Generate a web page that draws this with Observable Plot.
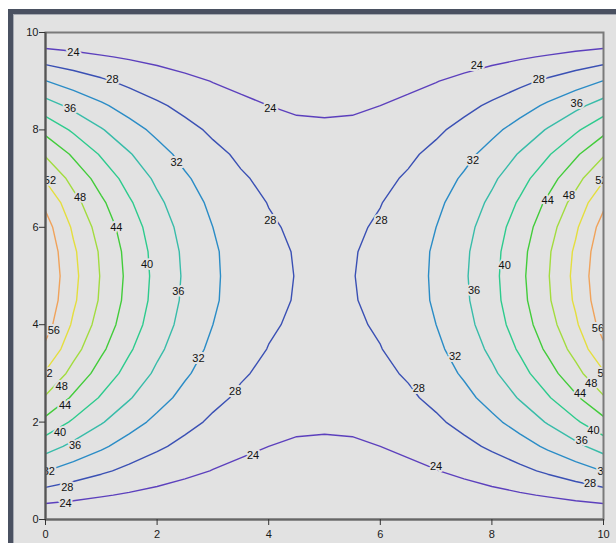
<!DOCTYPE html>
<html>
<head>
<meta charset="utf-8">
<script src="https://cdn.jsdelivr.net/npm/d3@7"></script>
<script src="https://cdn.jsdelivr.net/npm/@observablehq/plot@0.6"></script>
<style>
  html, body { margin: 0; padding: 0; background: #ffffff; }
  #panel { position: absolute; left: 8px; top: 9px; right: 0; bottom: 0;
           background: #e2e2e2; border-top: 5px solid #4a5161; border-left: 5px solid #4a5161;
           box-shadow: inset 1px 1px 0 #a7abb3; }
  #chart { position: absolute; left: 0; top: 0; }
</style>
</head>
<body>
<div id="panel"></div>
<div id="chart"></div>
<script>
// Contour levels and their line colours
const levels = [24, 28, 32, 36, 40, 44, 48, 52, 56];
const levelColors = ["#5c40bd", "#3a50b4", "#2a8cc6", "#38bca9", "#2dcb8d", "#42cc3a", "#a2dc3e", "#e4de3e", "#f0a25a"];

// Grid of sampled values (x = 0..10 step 0.5 across, y = 0..10 step 0.5 down the rows)
const gridRows = [
  [20.0,20.0,20.0,20.0,20.0,20.0,20.0,20.0,20.0,20.0,20.0,20.0,20.0,20.0,20.0,20.0,20.0,20.0,20.0,20.0,20.0],
  [26.1,25.2,24.3,23.6,23.0,22.4,22.0,21.6,21.4,21.2,21.2,21.2,21.4,21.6,22.0,22.4,23.0,23.6,24.3,25.2,26.1],
  [32.1,30.2,28.6,27.1,25.8,24.8,23.9,23.2,22.7,22.4,22.3,22.4,22.7,23.2,23.9,24.8,25.8,27.1,28.6,30.2,32.1],
  [37.7,35.0,32.6,30.4,28.6,27.0,25.7,24.7,24.0,23.6,23.5,23.6,24.0,24.7,25.7,27.0,28.6,30.4,32.6,35.0,37.7],
  [42.9,39.4,36.3,33.5,31.1,29.1,27.4,26.1,25.2,24.6,24.5,24.6,25.2,26.1,27.4,29.1,31.1,33.5,36.3,39.4,42.9],
  [47.6,43.4,39.6,36.3,33.4,30.9,28.9,27.4,26.3,25.6,25.4,25.6,26.3,27.4,28.9,30.9,33.4,36.3,39.6,43.4,47.6],
  [51.6,46.7,42.4,38.6,35.3,32.5,30.2,28.4,27.2,26.4,26.1,26.4,27.2,28.4,30.2,32.5,35.3,38.6,42.4,46.7,51.6],
  [55.2,49.4,44.7,40.5,36.8,33.8,31.2,29.3,27.9,27.0,26.8,27.0,27.9,29.3,31.2,33.8,36.8,40.5,44.7,49.4,55.2],
  [57.6,51.4,46.3,41.9,38.0,34.7,32.0,29.9,28.4,27.5,27.2,27.5,28.4,29.9,32.0,34.7,38.0,41.9,46.3,51.4,57.6],
  [58.8,52.6,47.4,42.7,38.7,35.3,32.5,30.3,28.8,27.8,27.5,27.8,28.8,30.3,32.5,35.3,38.7,42.7,47.4,52.6,58.8],
  [59.3,53.0,47.7,43.0,38.9,35.5,32.6,30.4,28.9,27.9,27.6,27.9,28.9,30.4,32.6,35.5,38.9,43.0,47.7,53.0,59.3],
  [58.8,52.6,47.4,42.7,38.7,35.3,32.5,30.3,28.8,27.8,27.5,27.8,28.8,30.3,32.5,35.3,38.7,42.7,47.4,52.6,58.8],
  [57.6,51.4,46.3,41.9,38.0,34.7,32.0,29.9,28.4,27.5,27.2,27.5,28.4,29.9,32.0,34.7,38.0,41.9,46.3,51.4,57.6],
  [55.2,49.4,44.7,40.5,36.8,33.8,31.2,29.3,27.9,27.0,26.8,27.0,27.9,29.3,31.2,33.8,36.8,40.5,44.7,49.4,55.2],
  [51.6,46.7,42.4,38.6,35.3,32.5,30.2,28.4,27.2,26.4,26.1,26.4,27.2,28.4,30.2,32.5,35.3,38.6,42.4,46.7,51.6],
  [47.6,43.4,39.6,36.3,33.4,30.9,28.9,27.4,26.3,25.6,25.4,25.6,26.3,27.4,28.9,30.9,33.4,36.3,39.6,43.4,47.6],
  [42.9,39.4,36.3,33.5,31.1,29.1,27.4,26.1,25.2,24.6,24.5,24.6,25.2,26.1,27.4,29.1,31.1,33.5,36.3,39.4,42.9],
  [37.7,35.0,32.6,30.4,28.6,27.0,25.7,24.7,24.0,23.6,23.5,23.6,24.0,24.7,25.7,27.0,28.6,30.4,32.6,35.0,37.7],
  [32.1,30.2,28.6,27.1,25.8,24.8,23.9,23.2,22.7,22.4,22.3,22.4,22.7,23.2,23.9,24.8,25.8,27.1,28.6,30.2,32.1],
  [26.1,25.2,24.3,23.6,23.0,22.4,22.0,21.6,21.4,21.2,21.2,21.2,21.4,21.6,22.0,22.4,23.0,23.6,24.3,25.2,26.1],
  [20.0,20.0,20.0,20.0,20.0,20.0,20.0,20.0,20.0,20.0,20.0,20.0,20.0,20.0,20.0,20.0,20.0,20.0,20.0,20.0,20.0]
];

// Contour labels: [level, x, y]
const contourLabels = [
  [24, 0.50, 9.58], [24, 4.03, 8.44], [24, 7.73, 9.33], [24, 0.36, 0.33], [24, 3.72, 1.31], [24, 7.00, 1.09],
  [28, 1.20, 9.03], [28, 4.03, 6.14], [28, 8.84, 9.03], [28, 6.02, 6.14], [28, 0.39, 0.65], [28, 3.40, 2.63], [28, 6.69, 2.69], [28, 9.76, 0.74],
  [32, 2.35, 7.33], [32, 7.66, 7.37], [32, 0.06, 0.99], [32, 2.74, 3.30], [32, 7.34, 3.35], [32, 10.0, 0.99],
  [36, 0.44, 8.44], [36, 9.52, 8.54], [36, 2.38, 4.68], [36, 7.68, 4.70], [36, 0.53, 1.52], [36, 9.61, 1.62],
  [40, 1.82, 5.24], [40, 8.23, 5.22], [40, 0.26, 1.79], [40, 9.82, 1.83],
  [44, 1.27, 6.00], [44, 9.00, 6.55], [44, 0.35, 2.34], [44, 9.58, 2.58],
  [48, 0.62, 6.62], [48, 9.38, 6.65], [48, 0.29, 2.73], [48, 9.78, 2.79],
  [52, 0.08, 6.96], [52, 9.96, 6.96], [52, 0.02, 3.00], [52, 10.0, 3.00],
  [56, 0.15, 3.88], [56, 9.90, 3.92]
];

const xTicks = [0, 2, 4, 6, 8, 10];
const yTicks = [0, 2, 4, 6, 8, 10];

const nx = gridRows[0].length, ny = gridRows.length;
const values = gridRows.flat();
const labelData = contourLabels.map(([level, x, y]) => ({level, x, y}));

const contourMarks = levels.map((lvl, i) => Plot.contour(values, {
  width: nx, height: ny,
  x1: -0.25, x2: 10.25, y1: -0.25, y2: 10.25,
  thresholds: [lvl],
  fill: "none",
  stroke: levelColors[i],
  strokeWidth: 1.4,
  clip: true
}));

const chart = Plot.plot({
  width: 616,
  height: 543,
  marginLeft: 45,
  marginRight: 13,
  marginTop: 32,
  marginBottom: 24,
  style: {background: "transparent", fontFamily: "'Liberation Sans', Arial, sans-serif", fontSize: "11px", color: "#1a1a1a"},
  x: {domain: [0, 10]},
  y: {domain: [0, 10]},
  marks: [
    ...contourMarks,
    Plot.text(labelData, {
      x: "x", y: "y", text: d => String(d.level),
      fill: "#111", stroke: "#e2e2e2", strokeWidth: 4, paintOrder: "stroke",
      fontSize: 11, clip: true
    }),
    Plot.frame({stroke: "#7a7a7a", strokeWidth: 2}),
    Plot.ruleX([0], {stroke: "#555", strokeWidth: 2}),
    Plot.ruleY([0], {stroke: "#666", strokeWidth: 2}),
    Plot.axisX({ticks: xTicks, tickSize: 6, tickPadding: 5, label: null, tickFormat: d => String(d), stroke: "#333"}),
    Plot.axisY({ticks: yTicks, tickSize: 6, tickPadding: 1, label: null, tickFormat: d => String(d), stroke: "#333"})
  ]
});
document.getElementById("chart").appendChild(chart);
</script>
</body>
</html>
